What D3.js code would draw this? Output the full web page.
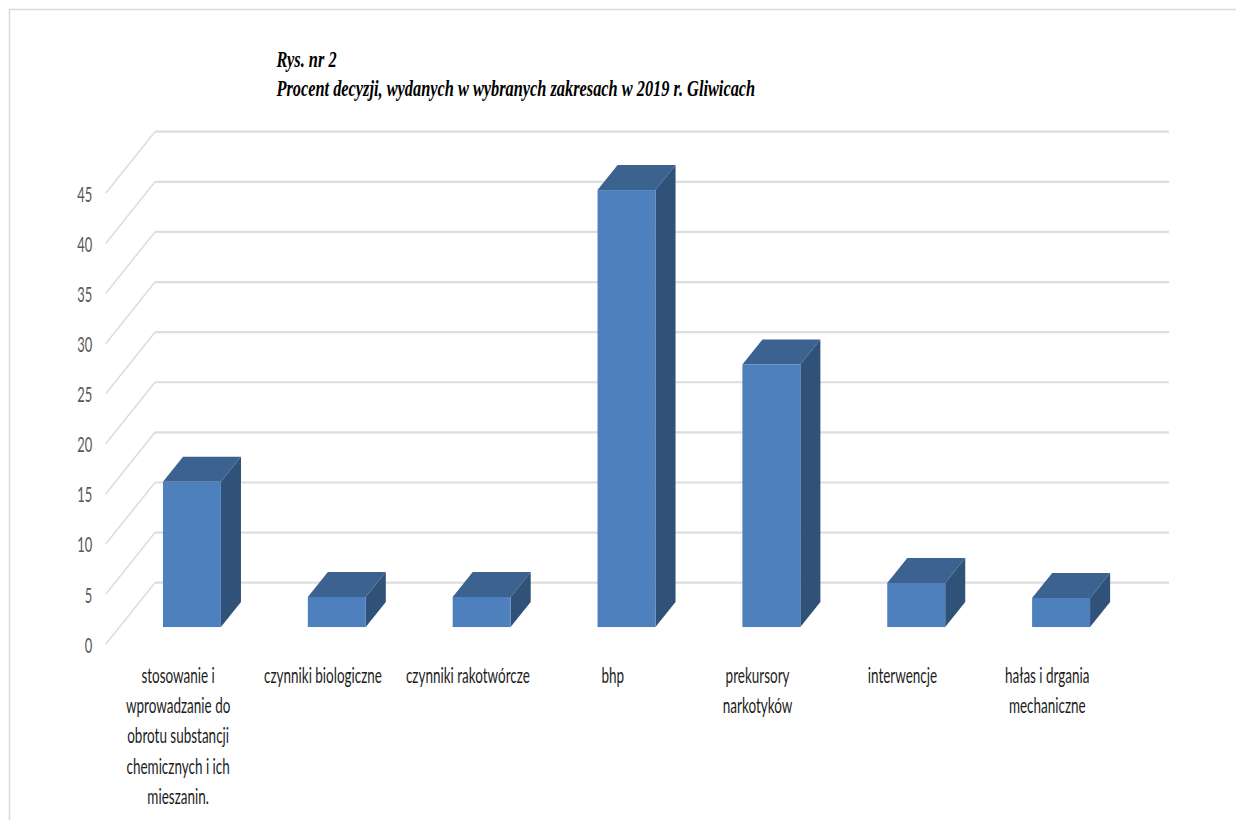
<!DOCTYPE html>
<html>
<head>
<meta charset="utf-8">
<script src="https://cdn.jsdelivr.net/npm/d3@7"></script>
<style>
  html, body { margin: 0; padding: 0; background: #ffffff; }
  svg { display: block; }
</style>
</head>
<body>
<svg id="chart" width="1236" height="820"></svg>
<script>
// Categories and their percentage of decisions
const categories = [
  "stosowanie i wprowadzanie do obrotu substancji chemicznych i ich mieszanin.",
  "czynniki biologiczne",
  "czynniki rakotwórcze",
  "bhp",
  "prekursory narkotyków",
  "interwencje",
  "hałas i drgania mechaniczne"
];
const categoryLines = [
  ["stosowanie i", "wprowadzanie do", "obrotu substancji", "chemicznych i ich", "mieszanin."],
  ["czynniki biologiczne"],
  ["czynniki rakotwórcze"],
  ["bhp"],
  ["prekursory", "narkotyków"],
  ["interwencje"],
  ["hałas i drgania", "mechaniczne"]
];
const values = [14.5, 3.0, 3.0, 43.6, 26.2, 4.4, 2.9];
const yTicks = [0, 5, 10, 15, 20, 25, 30, 35, 40, 45];
const titleLines = ["Rys. nr 2", "Procent decyzji, wydanych w wybranych zakresach w 2019 r. Gliwicach"];

const svg = d3.select("#chart");

// Outer frame of the chart area
svg.append("rect")
  .attr("x", 9.5).attr("y", 9.5)
  .attr("width", 1240).attr("height", 830)
  .attr("fill", "none").attr("stroke", "#d9d9d9").attr("stroke-width", 1.5);

// Back wall of the 3D plot
const x = d3.scaleBand().domain(categories).range([155, 1169])
  .paddingInner(0.6).paddingOuter(0.3);
const y = d3.scaleLinear().domain([0, 45]).range([582.7, 131.7]);

// Oblique depth projection: 0 = back wall, 1 = front edge of the floor
const depthX = d3.scaleLinear().domain([0, 1]).range([0, -49.3]);
const depthY = d3.scaleLinear().domain([0, 1]).range([0, 61.6]);
const barBack = 0.313, barFront = 0.72;

// Gridlines: horizontal on the back wall, diagonal on the side wall
const grid = svg.append("g");
grid.selectAll("line.h").data(yTicks).join("line")
  .attr("class", "h")
  .attr("x1", x.range()[0]).attr("x2", x.range()[1])
  .attr("y1", d => y(d)).attr("y2", d => y(d))
  .attr("stroke", "#dedede").attr("stroke-width", 2.2);
grid.selectAll("line.d").data(yTicks).join("line")
  .attr("class", "d")
  .attr("x1", x.range()[0]).attr("y1", d => y(d))
  .attr("x2", x.range()[0] + depthX(1)).attr("y2", d => y(d) + depthY(1))
  .attr("stroke", "#dedede").attr("stroke-width", 1.6);

// Helper to measure a string and derive a horizontal squeeze factor
function squeeze(text, font, size, weight, style, target) {
  const t = svg.append("text").text(text)
    .attr("font-family", font).attr("font-size", size)
    .attr("font-weight", weight).attr("font-style", style);
  const w = t.node().getComputedTextLength();
  t.remove();
  return target / w;
}

const labelFont = "Lato, 'Open Sans', sans-serif";
const labelSize = 22;
const labelScale = squeeze("czynniki biologiczne", labelFont, labelSize, "normal", "normal", 118);
const tickScale = squeeze("45", labelFont, labelSize, "normal", "normal", 15);

// Value axis labels at the front end of each diagonal
svg.append("g").selectAll("text").data(yTicks).join("text")
  .attr("transform", d => `translate(${x.range()[0] + depthX(1) - 13.5},${y(d) + depthY(1) + 8.4}) scale(${tickScale},1)`)
  .attr("text-anchor", "end")
  .attr("font-family", labelFont).attr("font-size", labelSize)
  .attr("fill", "#595959")
  .text(d => d);

// Bars as boxes: front, top and right side faces
const bw = x.bandwidth();
const fx = depthX(barFront), fy = depthY(barFront);
const bx = depthX(barBack), by = depthY(barBack);
const bars = svg.append("g").selectAll("g").data(values).join("g");
bars.append("polygon")
  .attr("points", (v, i) => {
    const xl = x(categories[i]), xr = xl + bw, yt = y(v);
    return [[xl + fx, yt + fy], [xr + fx, yt + fy], [xr + bx, yt + by], [xl + bx, yt + by]].join(" ");
  })
  .attr("fill", "#3c6390");
bars.append("polygon")
  .attr("points", (v, i) => {
    const xr = x(categories[i]) + bw, yt = y(v), y0 = y(0);
    return [[xr + fx, yt + fy], [xr + bx, yt + by], [xr + bx, y0 + by], [xr + fx, y0 + fy]].join(" ");
  })
  .attr("fill", "#305279");
bars.append("rect")
  .attr("x", (v, i) => x(categories[i]) + fx)
  .attr("y", v => y(v) + fy)
  .attr("width", bw)
  .attr("height", v => y(0) - y(v))
  .attr("fill", "#4e80bd");

// Category labels under the floor
const lineStep = 30.2;
const labels = svg.append("g").selectAll("g").data(categoryLines).join("g");
labels.each(function (lines, i) {
  const cx = x(categories[i]) + bw / 2 + depthX(1);
  d3.select(this).selectAll("text").data(lines).join("text")
    .attr("transform", (l, j) => `translate(${cx},${683 + j * lineStep}) scale(${labelScale},1)`)
    .attr("text-anchor", "middle")
    .attr("font-family", labelFont).attr("font-size", labelSize)
    .attr("fill", "#1c1c1c")
    .text(l => l);
});

// Title, bold italic serif
const titleFont = "'Liberation Serif', 'Times New Roman', serif";
const titleSize = 23;
const titleScale = squeeze(titleLines[1], titleFont, titleSize, "bold", "italic", 479);
svg.append("g").selectAll("text").data(titleLines).join("text")
  .attr("transform", (t, j) => `translate(276.5,${66.7 + j * 29.6}) scale(${titleScale},1)`)
  .attr("font-family", titleFont).attr("font-size", titleSize)
  .attr("font-weight", "bold").attr("font-style", "italic")
  .attr("fill", "#000")
  .text(t => t);
</script>
</body>
</html>
